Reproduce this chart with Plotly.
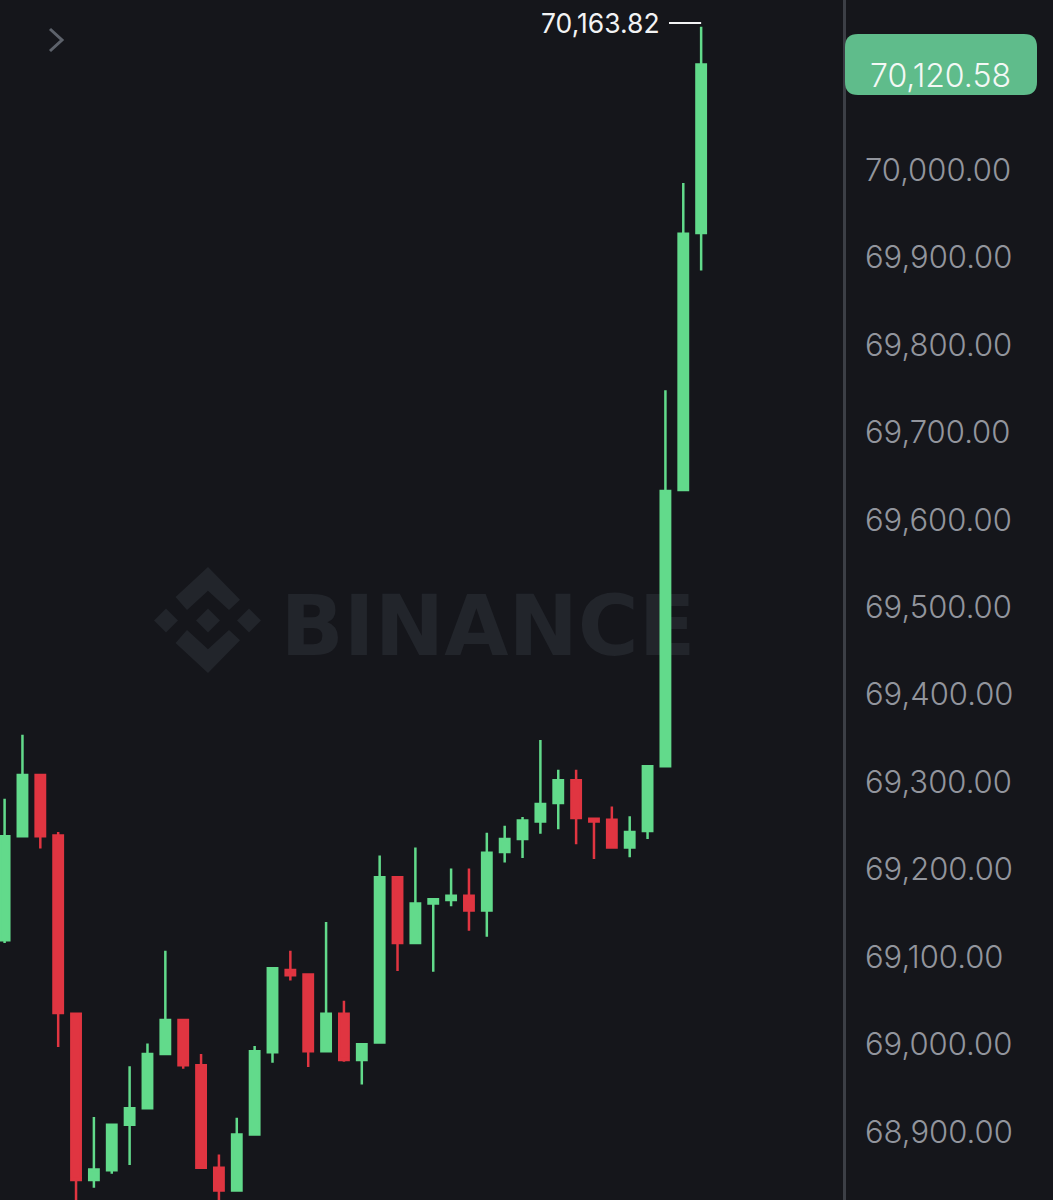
import plotly.graph_objects as go

opens  = [69119,69238,69308,69239,69035,68845,68856,68908,68927,68989,69028,68976,68859,68833,68897,68991,69085,69080,68992,69035,
          68982,69002,69191,69116,69161,69165,69170,69153,69220,69235,69255,69276,69302,69258,69257,69225,69244,69318,69634,69928]
highs  = [69281,69354,69308,69243,69035,68917,68908,68975,69001,69107,69028,68989,68874,68916,68998,69087,69107,69080,69140,69050,
          69000,69216,69191,69225,69166,69201,69201,69242,69250,69260,69348,69314,69314,69258,69272,69261,69318,69748,69985,70163.82]
lows   = [69116,69238,69224,68997,68805,68836,68852,68862,68927,68989,68972,68859,68816,68833,68897,68979,69073,68974,68992,68980,
          68954,69002,69084,69116,69083,69158,69130,69123,69208,69213,69241,69246,69229,69212,69225,69214,69235,69318,69634,69885]
closes = [69238,69308,69238,69036,68845,68857,68908,68927,68989,69028,68976,68859,68833,68897,68992,69087,69079,68992,69035,68982,
          69000,69191,69116,69161,69166,69170,69153,69219,69235,69256,69275,69302,69259,69255,69225,69243,69318,69633,69927,70120.58]
candle_index = list(range(len(opens)))
tick_values = [70000,69900,69800,69700,69600,69500,69400,69300,69200,69100,69000,68900]
last_price = 70120.58
peak_price = 70163.82
BG = "#15161b"; GREEN = "#62da8b"; RED = "#e03541"
W, H = 1053, 1200
GRID_PX = 17.86; FIRST_PX = 4.6; PANEL_PX = 843

def px(x): return x / W
def py(y): return 1 - y / H
def path(points, close=True):
    s = "M " + " L ".join(f"{px(x):.5f},{py(y):.5f}" for x, y in points)
    return s + (" Z" if close else "")
def rounded(x0, y0, x1, y1, r):
    return (f"M {px(x0+r):.5f},{py(y0):.5f} L {px(x1-r):.5f},{py(y0):.5f} "
            f"Q {px(x1):.5f},{py(y0):.5f} {px(x1):.5f},{py(y0+r):.5f} L {px(x1):.5f},{py(y1-r):.5f} "
            f"Q {px(x1):.5f},{py(y1):.5f} {px(x1-r):.5f},{py(y1):.5f} L {px(x0+r):.5f},{py(y1):.5f} "
            f"Q {px(x0):.5f},{py(y1):.5f} {px(x0):.5f},{py(y1-r):.5f} L {px(x0):.5f},{py(y0+r):.5f} "
            f"Q {px(x0):.5f},{py(y0):.5f} {px(x0+r):.5f},{py(y0):.5f} Z")

fig = go.Figure(go.Candlestick(
    x=candle_index, open=opens, high=highs, low=lows, close=closes,
    increasing=dict(line=dict(color=GREEN, width=2.5), fillcolor=GREEN),
    decreasing=dict(line=dict(color=RED, width=2.5), fillcolor=RED),
    whiskerwidth=0, showlegend=False, hoverinfo="skip"))

WM = "#22252b"
logo = [
    [(208,567),(240,599.7),(229,610),(208,590.7),(187,610),(175.6,597)],
    [(208,673),(240,640.3),(229,630),(208,649.3),(187,630),(175.6,643)],
    [(208,608.5),(220,620.5),(208,632.5),(196,620.5)],
    [(166,608.5),(178,620.5),(166,632.5),(154,620.5)],
    [(249,608.5),(261,620.5),(249,632.5),(237,620.5)],
]
shapes = [dict(type="path", xref="paper", yref="paper", path=path(p), fillcolor=WM, line_width=0, layer="below") for p in logo]
shapes.append(dict(type="rect", xref="paper", yref="paper", x0=px(285), x1=px(691), y0=py(650), y1=py(590),
                   line_width=0, fillcolor="rgba(0,0,0,0)", layer="below",
                   label=dict(text="<b>BINANCE</b>", textposition="middle center",
                              font=dict(family="DejaVu Sans", size=83, color=WM))))
shapes.append(dict(type="path", xref="paper", yref="paper", path=rounded(845, 34, 1037, 95, 13),
                   fillcolor="#5fbc8b", line_width=0))
shapes.append(dict(type="path", xref="paper", yref="paper", path=path([(50,29),(62,40),(50,51)], close=False),
                   line=dict(color="#5d626b", width=3)))
shapes.append(dict(type="line", xref="x", yref="y", x0=37.2, x1=39, y0=70168, y1=70168,
                   line=dict(color="#f2f3f4", width=2)))

fig.update_layout(
    width=W, height=H, margin=dict(l=0, r=0, t=0, b=0, pad=0),
    paper_bgcolor=BG, plot_bgcolor=BG, showlegend=False, shapes=shapes, boxgap=0.25,
    font=dict(family="Inter"),
    xaxis=dict(domain=[0, PANEL_PX / W], range=[-FIRST_PX / GRID_PX, (PANEL_PX - FIRST_PX) / GRID_PX],
               visible=False, rangeslider=dict(visible=False), showgrid=False, fixedrange=True),
    yaxis=dict(side="right", range=[68822, 70194.4], tickmode="array", tickvals=tick_values,
               ticktext=[f"{v:,.2f}" for v in tick_values],
               showgrid=False, zeroline=False, showline=True, linecolor="#3c3f46", linewidth=2.5,
               ticks="outside", ticklen=13, tickcolor="rgba(0,0,0,0)",
               tickfont=dict(family="Inter", size=31, color="#92959d", weight=300), fixedrange=True),
    annotations=[
        dict(xref="paper", yref="y", x=px(940), y=last_price, yshift=-11, text=f"{last_price:,.2f}",
             showarrow=False, xanchor="center", yanchor="middle",
             font=dict(family="Inter", size=32, color="#f4f8f5", weight=300)),
        dict(xref="paper", yref="y", x=px(662), y=70168, text=f"{peak_price:,.2f}",
             showarrow=False, xanchor="right", yanchor="middle",
             font=dict(family="Inter", size=26.5, color="#f2f3f4", weight=400)),
    ],
)
fig.write_html("out.html", config=dict(displayModeBar=False),
               post_script="document.body.style.margin='0';document.body.style.background='%s';" % BG)
